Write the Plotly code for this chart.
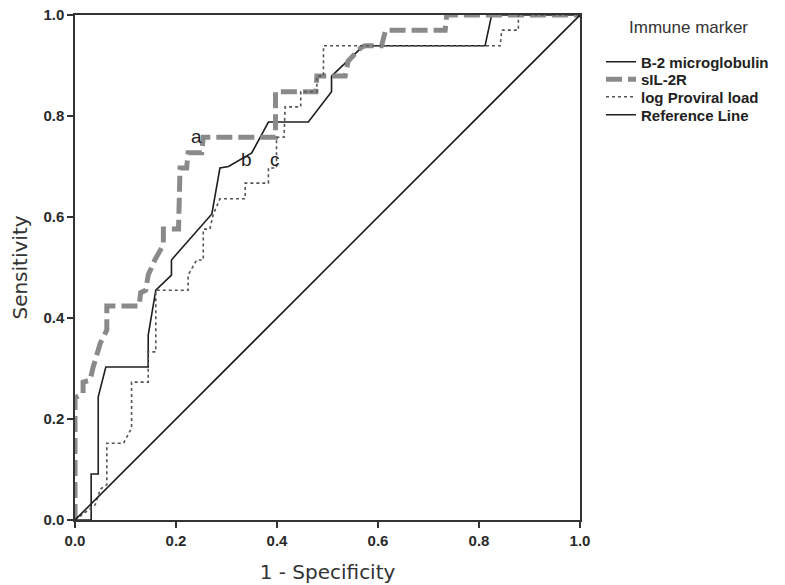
import plotly.graph_objects as go

# ---- data ----
b2_x = [0, 0.032, 0.032, 0.046, 0.046, 0.061, 0.145, 0.145, 0.160, 0.191, 0.191, 0.271, 0.287,
        0.304, 0.350, 0.383, 0.462, 0.508, 0.508, 0.571, 0.812, 0.825, 1.0]
b2_y = [0, 0, 0.091, 0.091, 0.244, 0.303, 0.303, 0.366, 0.455, 0.485, 0.515, 0.606, 0.697,
        0.700, 0.727, 0.788, 0.788, 0.848, 0.879, 0.939, 0.939, 1.0, 1.0]

sil_x = [0, 0, 0.016, 0.016, 0.030, 0.036, 0.050, 0.063, 0.063, 0.127, 0.130, 0.140, 0.145,
         0.158, 0.175, 0.175, 0.205, 0.208, 0.221, 0.224, 0.251, 0.254, 0.397, 0.397, 0.477,
         0.479, 0.535, 0.541, 0.566, 0.574, 0.607, 0.615, 0.733, 0.736, 1.0]
sil_y = [0, 0.242, 0.250, 0.273, 0.277, 0.303, 0.350, 0.376, 0.424, 0.424, 0.450, 0.455, 0.485,
         0.515, 0.545, 0.576, 0.576, 0.697, 0.697, 0.727, 0.727, 0.758, 0.758, 0.848, 0.848,
         0.879, 0.879, 0.909, 0.935, 0.939, 0.939, 0.970, 0.970, 1.0, 1.0]

pv_x = [0, 0.040, 0.050, 0.063, 0.063, 0.096, 0.112, 0.112, 0.145, 0.145, 0.160, 0.160, 0.224,
        0.224, 0.241, 0.254, 0.254, 0.267, 0.274, 0.287, 0.337, 0.337, 0.383, 0.383, 0.399,
        0.399, 0.414, 0.416, 0.447, 0.447, 0.479, 0.479, 0.492, 0.492, 0.842, 0.845, 0.878,
        0.878, 1.0]
pv_y = [0, 0.030, 0.061, 0.070, 0.152, 0.152, 0.182, 0.273, 0.273, 0.333, 0.333, 0.455, 0.455,
        0.485, 0.515, 0.515, 0.576, 0.576, 0.606, 0.636, 0.636, 0.667, 0.667, 0.697, 0.697,
        0.758, 0.758, 0.818, 0.818, 0.848, 0.848, 0.879, 0.879, 0.939, 0.939, 0.970, 0.970,
        1.0, 1.0]

ref_x = [0, 1]
ref_y = [0, 1]

tick_vals = [0.0, 0.2, 0.4, 0.6, 0.8, 1.0]
tick_text = ["0.0", "0.2", "0.4", "0.6", "0.8", "1.0"]

labels = ["a", "b", "c"]
label_x = [0.241, 0.340, 0.396]
label_y = [0.759, 0.713, 0.713]

FONT = "Liberation Sans, Arial, sans-serif"
TITLE_FONT = "DejaVu Sans, Liberation Sans, sans-serif"

# page body margin is removed (post_script); plot area at x 75..580, y 15..520
W, H = 785, 585
L, T = 75, 15
R, B = W - 580, H - 520
PW, PH = W - L - R, H - T - B


def px_x(p):
    return (p - L) / PW


def px_y(p):
    return (H - B - p) / PH


fig = go.Figure()
fig.add_trace(go.Scatter(x=b2_x, y=b2_y, mode="lines", name="B-2 microglobulin",
                         line=dict(color="#1e1e1e", width=1.6), legend="legend"))
fig.add_trace(go.Scatter(x=sil_x, y=sil_y, mode="lines", name="sIL-2R",
                         line=dict(color="#8a8a8a", width=5, dash="16px,6px"), legend="legend2"))
fig.add_trace(go.Scatter(x=pv_x, y=pv_y, mode="lines", name="log Proviral load",
                         line=dict(color="#555555", width=1.6, dash="3px,3px"), legend="legend3"))
fig.add_trace(go.Scatter(x=ref_x, y=ref_y, mode="lines", name="Reference Line",
                         line=dict(color="#1e1e1e", width=1.6), legend="legend4"))

for t, x, y in zip(labels, label_x, label_y):
    fig.add_annotation(x=x, y=y, text=t, showarrow=False,
                       font=dict(family=FONT, size=19, color="#222222"))

# legend title
fig.add_annotation(x=px_x(688), y=px_y(27), xref="paper", yref="paper", text="Immune marker",
                   showarrow=False, xanchor="center", yanchor="middle",
                   font=dict(family=FONT, size=17, color="#333333"))

axis_common = dict(range=[0, 1], tickvals=tick_vals, ticktext=tick_text, automargin=False,
                   showgrid=False, zeroline=False, showline=True, linecolor="#333333",
                   linewidth=1.5, mirror=True, ticks="outside", ticklen=6, tickwidth=1.5,
                   tickcolor="#333333", ticklabeloverflow="allow",
                   tickfont=dict(family=FONT, size=15, color="#2a2a2a", weight="bold"))

fig.update_xaxes(title=dict(text="1 - Specificity", standoff=17,
                            font=dict(family=TITLE_FONT, size=20, color="#333333")), **axis_common)
fig.update_yaxes(title=dict(text="Sensitivity", standoff=10,
                            font=dict(family=TITLE_FONT, size=20, color="#333333")), **axis_common)

leg_font = dict(family=FONT, size=15, color="#222222", weight="bold")
leg_x = px_x(601)
leg_common = dict(x=leg_x, xanchor="left", yanchor="middle", font=leg_font,
                  bgcolor="rgba(0,0,0,0)")
fig.update_layout(
    width=W, height=H,
    margin=dict(l=L, r=R, t=T, b=B, autoexpand=False),
    plot_bgcolor="white", paper_bgcolor="white",
    showlegend=True,
    hovermode=False,
    legend=dict(y=px_y(62), **leg_common),
    legend2=dict(y=px_y(79.5), **leg_common),
    legend3=dict(y=px_y(97), **leg_common),
    legend4=dict(y=px_y(115), **leg_common),
)

fig.write_html("out.html", config={"displayModeBar": False},
               post_script="document.body.style.margin='0';document.body.style.padding='0';")
